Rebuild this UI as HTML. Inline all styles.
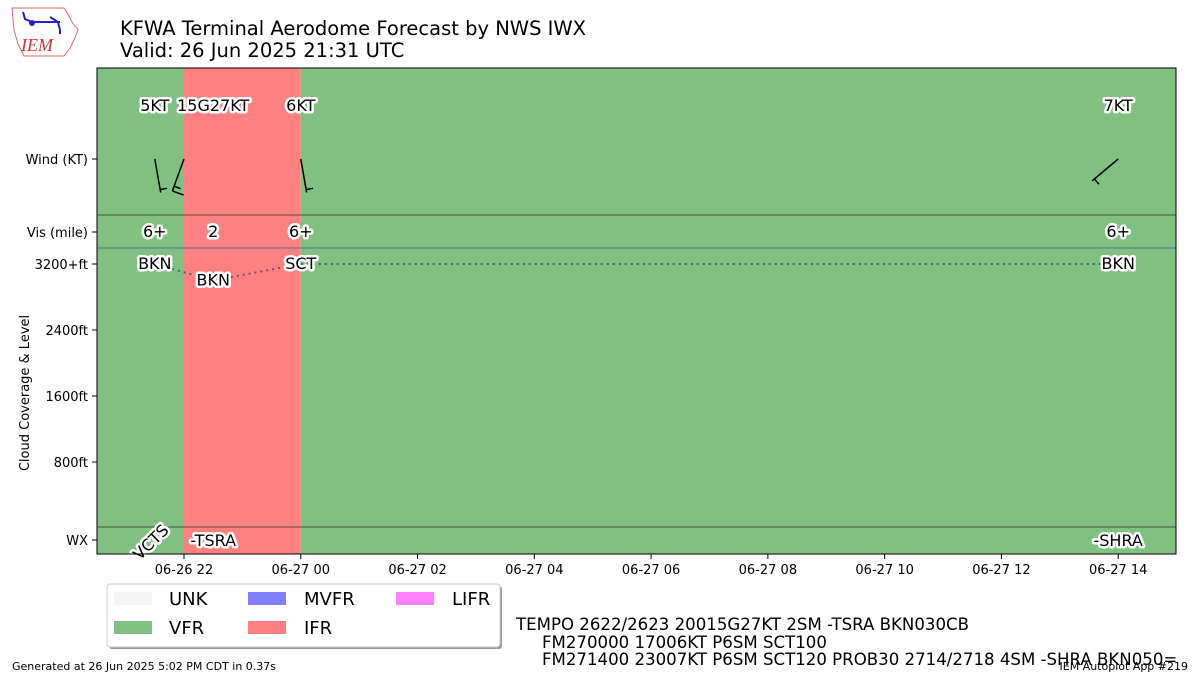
<!DOCTYPE html>
<html><head><meta charset="utf-8"><style>
body{margin:0;background:#fff;}
svg{display:block;font-family:"DejaVu Sans","Liberation Sans",sans-serif;}
.lbl{font-size:16px;fill:#000;paint-order:stroke;stroke:#fff;stroke-width:5px;stroke-linejoin:round;}
.tick{font-size:13px;fill:#000;}
</style></head><body>
<svg id="chart" width="1200" height="675" viewBox="0 0 1200 675">
<g>
<path d="M12,8 L64,8 L68,14 L72,22 L78,30 L74,40 L70,48 L64,56 L24,56 L18,44 L14,30 Z" fill="#fff" stroke="#d66" stroke-width="1"/>
<path d="M23,12 L25,19 L32,22 M32,22 L60,22 M50,17 L58,22 L60,30 L60,34" stroke="#22c" stroke-width="2" fill="none"/>
<circle cx="32" cy="23" r="3" fill="#22c"/>
<text x="21" y="51" font-family="Liberation Serif,serif" font-style="italic" font-size="18" fill="#c33">IEM</text>
</g>
<text x="120" y="35" font-size="19.5">KFWA Terminal Aerodome Forecast by NWS IWX</text>
<text x="120" y="57" font-size="19.5">Valid: 26 Jun 2025 21:31 UTC</text>
<g id="plot"></g>
<g>
<rect x="109" y="586" width="393" height="63" rx="3" fill="#999"/>
<rect x="107" y="584" width="393" height="63" rx="3" fill="#fff" stroke="#ccc"/>
<rect x="114" y="592" width="38" height="13" fill="#f5f5f5"/><text x="169" y="605" font-size="18">UNK</text>
<rect x="114" y="621" width="38" height="13" fill="#80c080"/><text x="169" y="634" font-size="18">VFR</text>
<rect x="248" y="592" width="38" height="13" fill="#8080ff"/><text x="304" y="605" font-size="18">MVFR</text>
<rect x="248" y="621" width="38" height="13" fill="#ff8080"/><text x="304" y="634" font-size="18">IFR</text>
<rect x="396" y="592" width="38" height="13" fill="#ff80ff"/><text x="452" y="605" font-size="18">LIFR</text>
</g>
<g font-size="16.6">
<text x="516" y="630">TEMPO 2622/2623 20015G27KT 2SM -TSRA BKN030CB</text>
<text x="542" y="648">FM270000 17006KT P6SM SCT100</text>
<text x="542" y="665">FM271400 23007KT P6SM SCT120 PROB30 2714/2718 4SM -SHRA BKN050=</text>
</g>
<text x="12" y="670" font-size="11">Generated at 26 Jun 2025 5:02 PM CDT in 0.37s</text>
<text x="1188" y="670" font-size="11" text-anchor="end">IEM Autoplot App #219</text>
</svg>
<script>
// hours since 2025-06-26 00Z
const catTimes=[20.5,22,24];
const catEnds=[22,24,39];
const catColors=["#80c080","#ff8080","#80c080"];
const windLabelTimes=[21.5,22.5,24,38];
const windTimes=[21.5,22,24,38];
const windLabels=["5KT","15G27KT","6KT","7KT"];
const windDir=[170,200,170,230];
const windSpd=[5,15,6,7];
const visTimes=[21.5,22.5,24,38];
const visLabels=["6+","2","6+","6+"];
const cloudTimes=[21.5,22.5,24,38];
const cloudLevels=[3200,3000,3200,3200];
const cloudLabels=["BKN","BKN","SCT","BKN"];
const wxTimes=[21.5,22.5,38];
const wxLabels=["VCTS","-TSRA","-SHRA"];
const xTicks=[22,24,26,28,30,32,34,36,38];
const xTickLabels=["06-26 22","06-27 00","06-27 02","06-27 04","06-27 06","06-27 08","06-27 10","06-27 12","06-27 14"];
const yLevels=[800,1600,2400,3200];
const yLevelLabels=["800ft","1600ft","2400ft","3200+ft"];

const L=97,R=1176,T=68,B=554,t0=20.51,t1=38.99;
const X=t=>L+(t-t0)/(t1-t0)*(R-L);
const Xc=t=>Math.max(L,Math.min(R,X(t)));
const Y=ft=>528-ft/800*66;
const NS="http://www.w3.org/2000/svg";
const g=document.getElementById('plot');
function mk(tag,attrs,parent){const e=document.createElementNS(NS,tag);for(const k in attrs)e.setAttribute(k,attrs[k]);(parent||g).appendChild(e);return e;}
catTimes.forEach((t,i)=>{
 const r=mk('rect',{x:Xc(t),y:T,width:Xc(catEnds[i])-Xc(t),height:B-T,fill:catColors[i]});
 
 
});
[215,527].forEach(y=>mk('line',{x1:L,x2:R,y1:y,y2:y,stroke:'#333','stroke-width':0.8}));
mk('line',{x1:L,x2:R,y1:248,y2:248,stroke:'#336699','stroke-width':0.8});
for(let i=0;i<cloudTimes.length-1;i++){
 const c=cloudTimes[i]>=22&&cloudTimes[i]<24?'#7a4a7a':'#2e7058';
 mk('polyline',{points:`${X(cloudTimes[i])},${Y(cloudLevels[i])} ${X(cloudTimes[i+1])},${Y(cloudLevels[i+1])}`,stroke:c,'stroke-width':2,'stroke-dasharray':'2,4',fill:'none'});
}
function txt(x,y,s,cls,extra){const e=mk('text',Object.assign({x:x,y:y,'text-anchor':'middle',class:cls},extra||{}));e.textContent=s;return e;}
windLabelTimes.forEach((t,i)=>{
 const e=txt(X(t),111,windLabels[i],'lbl');
 
 
});
windTimes.forEach((t,i)=>{
 const a=windDir[i]*Math.PI/180, len=34;
 const tx=X(t), ty=159;
 const bx=tx+Math.sin(a)*len, by=ty-Math.cos(a)*len;
 const b=mk('line',{x1:tx,y1:ty,x2:bx,y2:by,stroke:'#000','stroke-width':1.5});
 
 
 const ux=Math.sin(a), uy=-Math.cos(a);
 const px=-uy, py=ux;
 let s=windSpd[i], k=0;
 while(s>=10){const ox=bx-ux*k*5, oy=by-uy*k*5;mk('line',{x1:ox,y1:oy,x2:ox-px*12,y2:oy-py*12,stroke:'#000','stroke-width':1.5});s-=10;k++;}
 if(s>=3){const ox=bx-ux*(k*5+(k?0:3)), oy=by-uy*(k*5+(k?0:3));mk('line',{x1:ox,y1:oy,x2:ox-px*7,y2:oy-py*7,stroke:'#000','stroke-width':1.5});}
});
visTimes.forEach((t,i)=>{const e=txt(X(t),237,visLabels[i],'lbl');
 
 });
cloudTimes.forEach((t,i)=>{const e=txt(X(t),Y(cloudLevels[i])+5,cloudLabels[i],'lbl');
 
 });
wxTimes.forEach((t,i)=>{
 let e;
 if(wxLabels[i]==='VCTS'){e=txt(X(t),546,wxLabels[i],'lbl',{transform:`rotate(-45 ${X(t)} 546)`});}
 else e=txt(X(t),546,wxLabels[i],'lbl');
 
 
});
mk('rect',{x:L,y:T,width:R-L,height:B-T,fill:'none',stroke:'#000','stroke-width':1});
xTicks.forEach((t,i)=>{mk('line',{x1:X(t),x2:X(t),y1:B,y2:B+5,stroke:'#000'});
 const e=mk('text',{x:X(t),y:B+20,'text-anchor':'middle',class:'tick'});e.textContent=xTickLabels[i];
 
 });
function ytick(y,s){mk('line',{x1:L-5,x2:L,y1:y,y2:y,stroke:'#000'});const e=mk('text',{x:L-9,y:y+5,'text-anchor':'end',class:'tick'});e.textContent=s;
 
 }
yLevels.forEach((v,i)=>ytick(Y(v),yLevelLabels[i]));
ytick(159,'Wind (KT)');ytick(232,'Vis (mile)');ytick(540,'WX');
const yt=mk('text',{x:29,y:393,'text-anchor':'middle',transform:'rotate(-90 29 393)',class:'tick'});yt.textContent='Cloud Coverage & Level';


</script>
</body></html>
